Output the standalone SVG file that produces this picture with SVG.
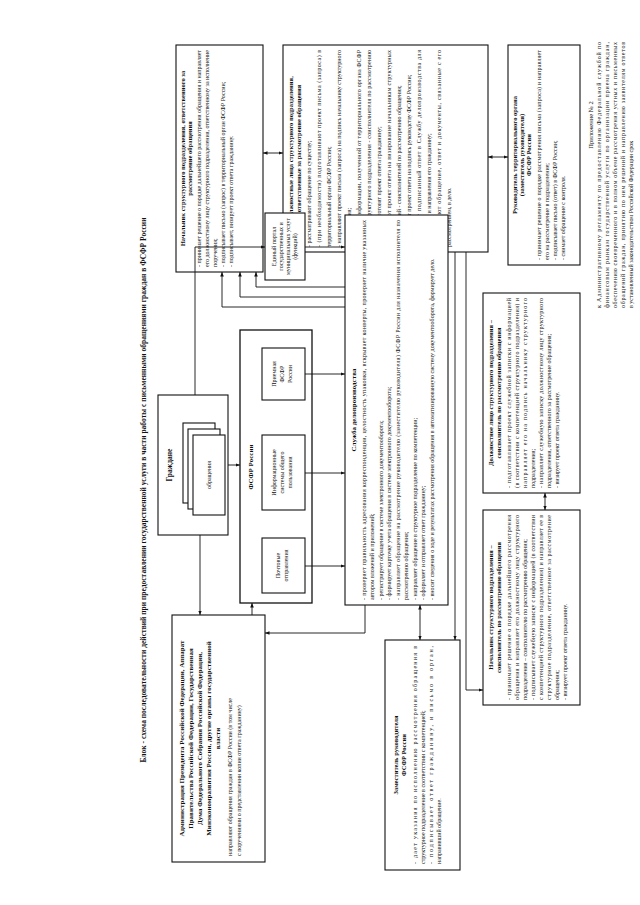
<svg xmlns="http://www.w3.org/2000/svg" width="640" height="905" viewBox="0 0 640 905">
<defs>
<marker id="ah" viewBox="0 0 10 10" refX="10" refY="5" markerWidth="5" markerHeight="5" orient="auto-start-reverse"><path d="M0,1 L10,5 L0,9 z" fill="#111"/></marker>
<style>
.b{fill:#fff;stroke:#111;stroke-width:1.1}
.t{font-family:"Liberation Serif","Times New Roman",serif;font-size:6px;fill:#111}
.h{font-family:"Liberation Serif","Times New Roman",serif;font-size:6.5px;font-weight:bold;fill:#111;text-anchor:middle}
.m{font-family:"Liberation Serif","Times New Roman",serif;font-size:6px;fill:#111;text-anchor:middle}
.c{fill:none;stroke:#111;stroke-width:0.9}
</style>
</defs>
<rect width="640" height="905" fill="#fff"/>
<g transform="translate(0,905) rotate(-90)">
<g id="title"><text class="h" x="415" y="146" style="font-size:7.5px" textLength="545" lengthAdjust="spacing">Блок - схема последовательности действий при предоставлении государственной услуги в части работы с письменными обращениями граждан в ФСФР России</text></g>
<g id="annex">
<text class="m" x="780" y="593" style="font-size:6.5px">Приложение № 2</text>
<text class="t" x="597" y="601" textLength="266" lengthAdjust="spacing">к Административному регламенту по предоставлению Федеральной службой по</text>
<text class="t" x="597" y="609" textLength="266" lengthAdjust="spacing">финансовым рынкам государственной услуги по организации приема граждан,</text>
<text class="t" x="597" y="617" textLength="266" lengthAdjust="spacing">обеспечению своевременного и в полном объеме рассмотрения устных и письменных</text>
<text class="t" x="597" y="625" textLength="266" lengthAdjust="spacing">обращений граждан, принятию по ним решений и направлению заявителям ответов</text>
<text class="t" x="597" y="633">в установленный законодательством Российской Федерации срок</text>
</g>
<g id="nachalnik">
<rect class="b" x="633" y="176" width="227" height="87"/>
<text class="h" x="746.5" y="185">Начальник структурного подразделения, ответственного за</text>
<text class="h" x="746.5" y="192">рассмотрение обращения</text>
<text class="t" x="638" y="201" textLength="217" lengthAdjust="spacing">- принимает решение о порядке дальнейшего рассмотрения обращения и направляет</text>
<text class="t" x="638" y="209" textLength="217" lengthAdjust="spacing">его должностному лицу структурного подразделения, ответственному за исполнение</text>
<text class="t" x="638" y="217">поручения;</text>
<text class="t" x="638" y="225">- подписывает письмо (запрос) в территориальный орган ФСФР России;</text>
<text class="t" x="638" y="233">- подписывает, визирует проект ответа гражданину.</text>
</g>
<g id="dolzhn">
<rect class="b" x="653" y="283" width="207" height="205"/>
<text class="h" x="756.5" y="293">Должностные лица структурного подразделения,</text>
<text class="h" x="756.5" y="301">ответственные за рассмотрение обращения</text>
<text class="t" x="658" y="311">- рассматривают обращение по существу;</text>
<text class="t" x="658" y="321" textLength="197" lengthAdjust="spacing">- (при необходимости) подготавливают проект письма (запроса) в</text>
<text class="t" x="658" y="331">территориальный орган ФСФР России;</text>
<text class="t" x="658" y="341" textLength="197" lengthAdjust="spacing">- направляют проект письма (запроса) на подпись начальнику структурного</text>
<text class="t" x="658" y="351">подразделения;</text>
<text class="t" x="658" y="361" textLength="197" lengthAdjust="spacing">- с учетом информации, полученной от территориального органа ФСФР</text>
<text class="t" x="658" y="371" textLength="197" lengthAdjust="spacing">России и структурного подразделения - соисполнителя по рассмотрению</text>
<text class="t" x="658" y="381">обращения, готовят проект ответа гражданину;</text>
<text class="t" x="658" y="391" textLength="197" lengthAdjust="spacing">- направляют проект ответа на визирование начальникам структурных</text>
<text class="t" x="658" y="401">подразделений - соисполнителей по рассмотрению обращения;</text>
<text class="t" x="658" y="411">- направляют проект ответа на подпись руководству ФСФР России;</text>
<text class="t" x="658" y="421" textLength="197" lengthAdjust="spacing">- передают подписанный ответ в Службу делопроизводства для</text>
<text class="t" x="658" y="431">регистрации и направления его гражданину;</text>
<text class="t" x="658" y="441" textLength="197" lengthAdjust="spacing">- формируют обращение, ответ и документы, связанные с его</text>
<text class="t" x="658" y="451">рассмотрением, в дело.</text>
</g>
<g id="rukterr">
<rect class="b" x="640" y="508" width="220" height="72"/>
<text class="h" x="750" y="517">Руководитель территориального органа</text>
<text class="h" x="750" y="524">(заместитель руководителя)</text>
<text class="h" x="750" y="531">ФСФР России</text>
<text class="t" x="645" y="541" textLength="210" lengthAdjust="spacing">- принимает решение о порядке рассмотрения письма (запроса) и направляет</text>
<text class="t" x="645" y="549">его на рассмотрение в подразделение;</text>
<text class="t" x="645" y="557">- подписывает письмо (ответ) в ФСФР России;</text>
<text class="t" x="645" y="565">- снимает обращение с контроля.</text>
</g>
<g id="admin">
<rect class="b" x="43" y="172" width="247" height="93"/>
<text class="h" x="166.5" y="184" style="font-size:7px">Администрация Президента Российской Федерации, Аппарат</text>
<text class="h" x="166.5" y="193" style="font-size:7px">Правительства Российской Федерации, Государственная</text>
<text class="h" x="166.5" y="202" style="font-size:7px">Дума Федерального Собрания Российской Федерации,</text>
<text class="h" x="166.5" y="211" style="font-size:7px">Минэкономразвития России, другие органы государственной</text>
<text class="h" x="166.5" y="220" style="font-size:7px">власти</text>
<text class="t" x="49" y="232">направляют обращения граждан в ФСФР России (в том числе</text>
<text class="t" x="49" y="241">с поручениями о представлении копии ответа гражданину)</text>
</g>
<g id="grazhdane">
<rect class="b" x="370" y="158" width="140" height="70"/>
<text class="h" x="440" y="172" style="font-size:7.5px">Граждане</text>
<rect class="b" x="402" y="183" width="80" height="32"/>
<rect class="b" x="396" y="188" width="80" height="32"/>
<rect class="b" x="390" y="193" width="80" height="32"/>
<text class="m" x="430" y="211">обращения</text>
</g>
<g id="fsfr">
<rect class="b" x="302" y="240" width="273" height="72" style="stroke-width:1.3"/>
<text class="h" x="438" y="253" style="font-size:7px">ФСФР России</text>
<rect class="b" x="312" y="262" width="55" height="43"/>
<text class="m" x="339.5" y="280">Почтовые</text>
<text class="m" x="339.5" y="288">отправления</text>
<rect class="b" x="395" y="262" width="75" height="43"/>
<text class="m" x="432.5" y="276">Информационные</text>
<text class="m" x="432.5" y="284">системы общего</text>
<text class="m" x="432.5" y="292">пользования</text>
<rect class="b" x="505" y="262" width="52" height="43"/>
<text class="m" x="531" y="276">Приемная</text>
<text class="m" x="531" y="284">ФСФР</text>
<text class="m" x="531" y="292">России</text>
</g>
<g id="portal">
<rect class="b" x="625" y="265" width="67" height="40"/>
<text class="m" x="658.5" y="276">Единый портал</text>
<text class="m" x="658.5" y="283">государственных и</text>
<text class="m" x="658.5" y="290">муниципальных услуг</text>
<text class="m" x="658.5" y="297">(функций)</text>
</g>
<g id="sluzhba">
<rect class="b" x="300" y="345" width="390" height="103"/>
<text class="h" x="495" y="356" style="font-size:7px">Служба делопроизводства</text>
<text class="t" x="305" y="366" textLength="380" lengthAdjust="spacing">- проверяет правильность адресования корреспонденции, целостность упаковки, вскрывает конверты, проверяет наличие указанных</text>
<text class="t" x="305" y="374">автором вложений и приложений;</text>
<text class="t" x="305" y="383">- регистрирует обращение в системе электронного документооборота;</text>
<text class="t" x="305" y="391">- формирует карточку учета обращения в системе электронного документооборота;</text>
<text class="t" x="305" y="400" textLength="380" lengthAdjust="spacing">- направляет обращение на рассмотрение руководителю (заместителю руководителя) ФСФР России для назначения исполнителя по</text>
<text class="t" x="305" y="408">рассмотрению обращения;</text>
<text class="t" x="305" y="417">- направляет обращение в структурное подразделение по компетенции;</text>
<text class="t" x="305" y="425">- оформляет и отправляет ответ гражданину;</text>
<text class="t" x="305" y="434">- вносит сведения о ходе и результатах рассмотрения обращения в автоматизированную систему документооборота, формирует дело.</text>
</g>
<g id="zam">
<rect class="b" x="35" y="385" width="230" height="75"/>
<text class="h" x="150" y="398">Заместитель руководителя</text>
<text class="h" x="150" y="406">ФСФР России</text>
<text class="t" x="41" y="417" textLength="218" lengthAdjust="spacing">- дает указания по исполнению рассмотрения обращения в</text>
<text class="t" x="41" y="425">структурное подразделение в соответствии с компетенцией;</text>
<text class="t" x="41" y="433" textLength="218" lengthAdjust="spacing">- подписывает ответ гражданину, и письмо в орган,</text>
<text class="t" x="41" y="441">направивший обращение.</text>
</g>
<g id="nach-soisp">
<rect class="b" x="200" y="483" width="195" height="97"/>
<text class="h" x="297.5" y="493">Начальник структурного подразделения –</text>
<text class="h" x="297.5" y="501">соисполнитель по рассмотрению обращения</text>
<text class="t" x="205" y="511" textLength="185" lengthAdjust="spacing">- принимает решение о порядке дальнейшего рассмотрения</text>
<text class="t" x="205" y="519" textLength="185" lengthAdjust="spacing">обращения и направляет его должностному лицу структурного</text>
<text class="t" x="205" y="527">подразделения – соисполнителю по рассмотрению обращения;</text>
<text class="t" x="205" y="535" textLength="185" lengthAdjust="spacing">- подписывает служебную записку с информацией (в соответствии</text>
<text class="t" x="205" y="543" textLength="185" lengthAdjust="spacing">с компетенцией структурного подразделения) и направляет ее в</text>
<text class="t" x="205" y="551" textLength="185" lengthAdjust="spacing">структурное подразделение, ответственное за рассмотрение</text>
<text class="t" x="205" y="559">обращения;</text>
<text class="t" x="205" y="567">- визирует проект ответа гражданину.</text>
</g>
<g id="dolzh-soisp">
<rect class="b" x="412" y="483" width="200" height="97"/>
<text class="h" x="512" y="493">Должностное лицо структурного подразделения –</text>
<text class="h" x="512" y="501">соисполнитель по рассмотрению обращения</text>
<text class="t" x="417" y="511" textLength="190" lengthAdjust="spacing">- подготавливает проект служебной записки с информацией</text>
<text class="t" x="417" y="519" textLength="190" lengthAdjust="spacing">(в соответствии с компетенцией структурного подразделения) и</text>
<text class="t" x="417" y="527" textLength="190" lengthAdjust="spacing">направляет его на подпись начальнику структурного</text>
<text class="t" x="417" y="535">подразделения;</text>
<text class="t" x="417" y="543" textLength="190" lengthAdjust="spacing">- направляет служебную записку должностному лицу структурного</text>
<text class="t" x="417" y="551">подразделения, ответственного за рассмотрение обращения;</text>
<text class="t" x="417" y="559">- визирует проект ответа гражданину.</text>
</g>
<g id="connectors">
<path class="c" d="M752,263 L752,283" marker-start="url(#ah)" marker-end="url(#ah)"/>
<path class="c" d="M748,488 L748,508" marker-start="url(#ah)" marker-end="url(#ah)"/>
<path class="c" d="M395,545 L412,545" marker-start="url(#ah)" marker-end="url(#ah)"/>
<path class="c" d="M370,200 L290,200" marker-end="url(#ah)"/>
<path class="c" d="M440,228 L440,240" marker-end="url(#ah)"/>
<path class="c" d="M510,195 L658,195 L658,265" marker-end="url(#ah)"/>
<path class="c" d="M339,305 L339,345" marker-end="url(#ah)"/>
<path class="c" d="M432,305 L432,345" marker-end="url(#ah)"/>
<path class="c" d="M531,305 L531,345" marker-end="url(#ah)"/>
<path class="c" d="M658,305 L658,345" marker-end="url(#ah)"/>
<path class="c" d="M598,345 L598,222 L633,222" marker-end="url(#ah)"/>
<path class="c" d="M608,345 L608,240 L633,240" marker-end="url(#ah)"/>
<path class="c" d="M618,345 L618,256 L633,256" marker-end="url(#ah)"/>
<path class="c" d="M653,466 L215,466 L215,483" marker-end="url(#ah)"/>
<path class="c" d="M653,455 L265,455" marker-end="url(#ah)"/>
<path class="c" d="M300,420 L265,420" marker-start="url(#ah)" marker-end="url(#ah)"/>
<path class="c" d="M300,365 L272,365 L272,265" marker-end="url(#ah)"/>
<path class="c" d="M290,252 L302,252" marker-end="url(#ah)"/>
</g>
</g>
</svg>
